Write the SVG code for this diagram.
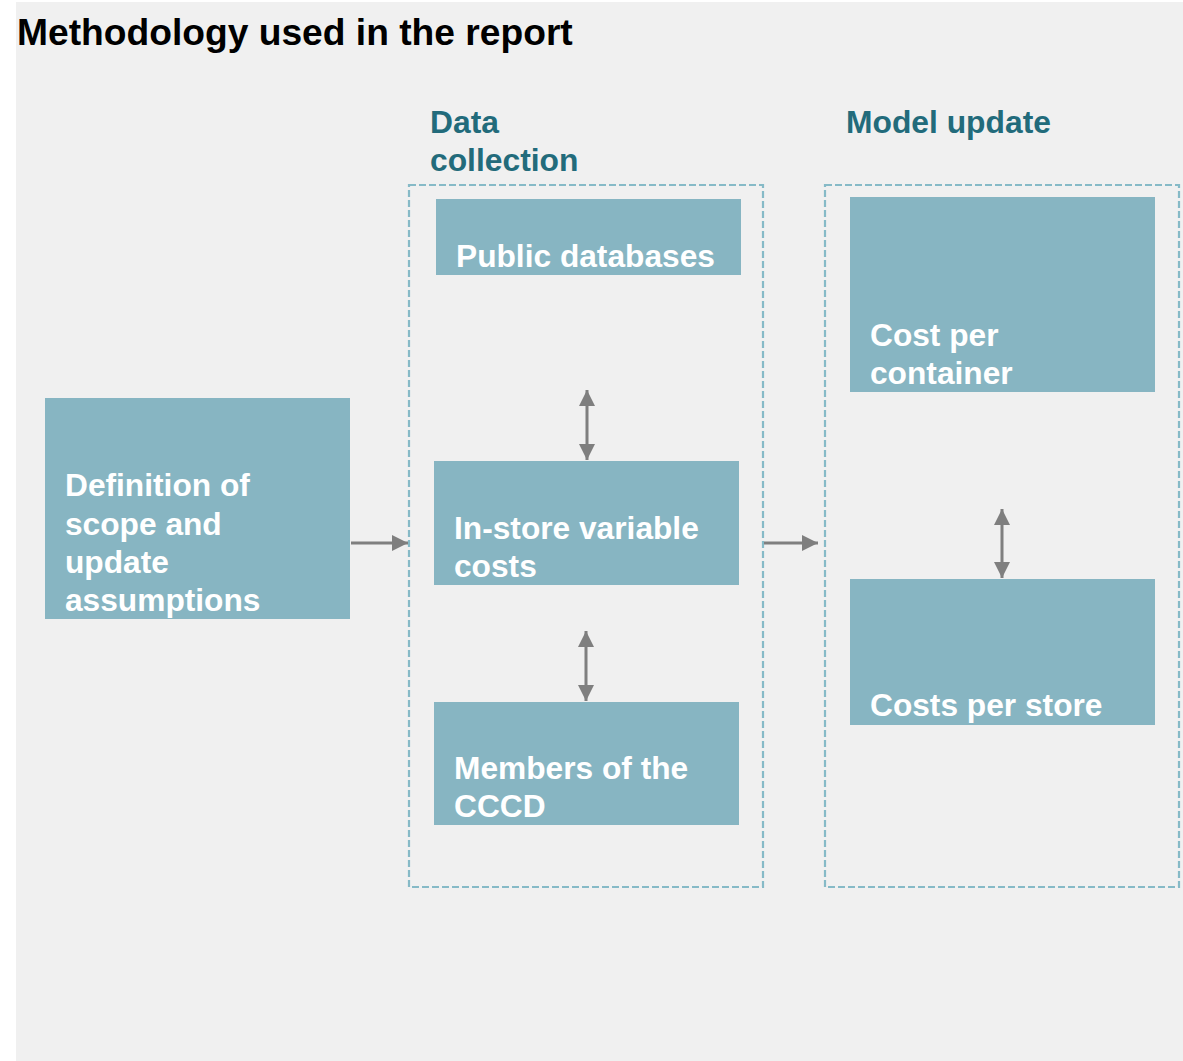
<svg xmlns="http://www.w3.org/2000/svg" width="1183" height="1061" viewBox="0 0 1183 1061">
  <defs>
    <style>
      .title { font-family: "Liberation Sans", Arial, sans-serif; font-weight: bold; font-size: 37.2px; fill: #000000; }
      .section { font-family: "Liberation Sans", Arial, sans-serif; font-weight: bold; font-size: 31.8px; fill: #226b7b; }
      .box { fill: #87b5c2; }
      .label { font-family: "Liberation Sans", Arial, sans-serif; font-weight: bold; font-size: 31.7px; fill: #ffffff; }
      .frame { fill: none; stroke: #86bac7; stroke-width: 2.2; stroke-dasharray: 7 3; }
      .link { fill: none; stroke: #7f7f7f; stroke-width: 3; }
    </style>
    <marker id="head" viewBox="0 0 16 16" refX="16" refY="8" markerWidth="16" markerHeight="16" markerUnits="userSpaceOnUse" orient="auto-start-reverse">
      <path d="M0,0 L16,8 L0,16 Z" fill="#7f7f7f"/>
    </marker>
  </defs>

  <!-- page background -->
  <rect x="0" y="0" width="1183" height="1061" fill="#ffffff"/>
  <rect x="16" y="2" width="1167" height="1059" fill="#f0f0f0"/>

  <text class="title" x="17" y="45">Methodology used in the report</text>

  <!-- stage headings -->
  <g id="heading-data-collection">
    <text class="section" x="430" y="133">Data</text>
    <text class="section" x="430" y="171">collection</text>
  </g>
  <g id="heading-model-update">
    <text class="section" x="846" y="133">Model update</text>
  </g>

  <!-- dashed stage frames -->
  <g id="frame-data-collection">
    <rect class="frame" x="409" y="185" width="354" height="702"/>
  </g>
  <g id="frame-model-update">
    <rect class="frame" x="825" y="185" width="354" height="702"/>
  </g>

  <!-- nodes -->
  <g id="node-definition">
    <rect class="box" x="45" y="398" width="305" height="221"/>
    <text class="label" x="65" y="496">Definition of</text>
    <text class="label" x="65" y="535">scope and</text>
    <text class="label" x="65" y="573">update</text>
    <text class="label" x="65" y="611">assumptions</text>
  </g>

  <g id="node-public-databases">
    <rect class="box" x="436" y="199" width="305" height="76"/>
    <text class="label" x="456" y="267">Public databases</text>
  </g>

  <g id="node-in-store">
    <rect class="box" x="434" y="461" width="305" height="124"/>
    <text class="label" x="454" y="539">In-store variable</text>
    <text class="label" x="454" y="577">costs</text>
  </g>

  <g id="node-members">
    <rect class="box" x="434" y="702" width="305" height="123"/>
    <text class="label" x="454" y="779">Members of the</text>
    <text class="label" x="454" y="817">CCCD</text>
  </g>

  <g id="node-cost-container">
    <rect class="box" x="850" y="197" width="305" height="195"/>
    <text class="label" x="870" y="346">Cost per</text>
    <text class="label" x="870" y="384">container</text>
  </g>

  <g id="node-cost-store">
    <rect class="box" x="850" y="579" width="305" height="146"/>
    <text class="label" x="870" y="716">Costs per store</text>
  </g>

  <!-- connectors -->
  <g id="connectors">
    <line class="link" x1="351" y1="543" x2="408" y2="543" marker-end="url(#head)"/>
    <line class="link" x1="764" y1="543" x2="818" y2="543" marker-end="url(#head)"/>
    <line class="link" x1="587" y1="390" x2="587" y2="460" marker-start="url(#head)" marker-end="url(#head)"/>
    <line class="link" x1="586" y1="631" x2="586" y2="701" marker-start="url(#head)" marker-end="url(#head)"/>
    <line class="link" x1="1002" y1="509" x2="1002" y2="578" marker-start="url(#head)" marker-end="url(#head)"/>
  </g>
</svg>
